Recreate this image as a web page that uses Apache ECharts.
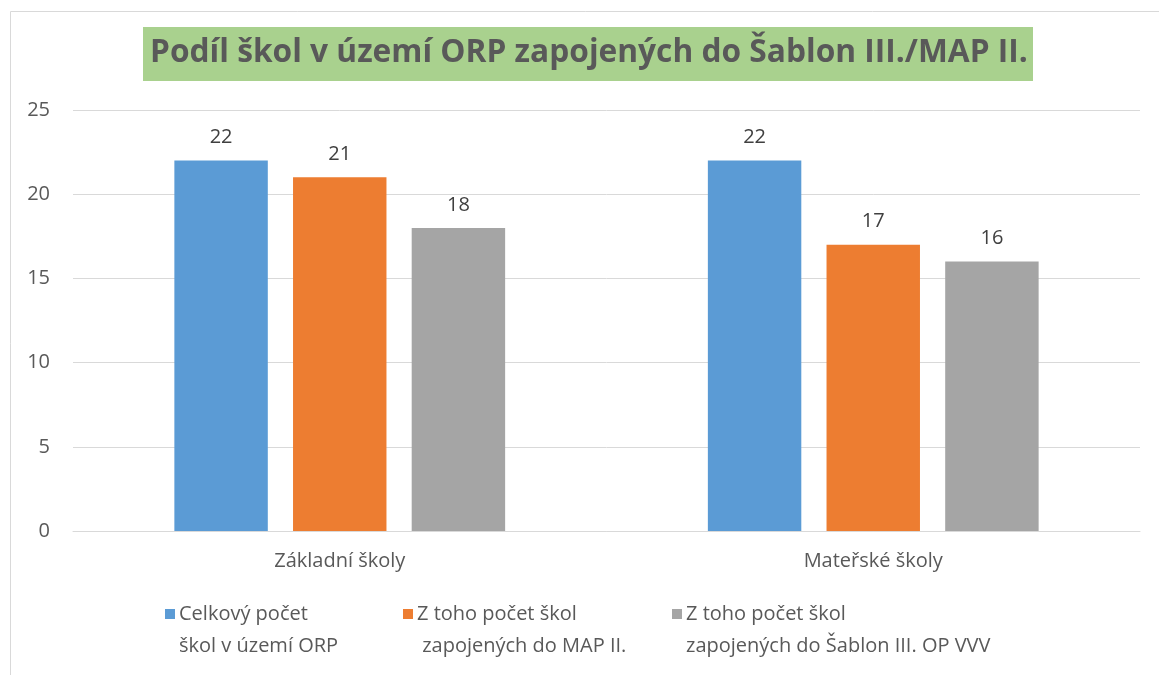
<html>
<head>
    <meta charset="utf-8">
    <title>Podíl škol</title>
    <script src="https://cdn.jsdelivr.net/npm/echarts@6/dist/echarts.min.js"></script>
</head>
<body style="margin:0">
<div id="main" style="width:1159px;height:675px;"></div>
<script type="text/javascript">
    // data
    var categories = ['Základní školy', 'Mateřské školy'];
    var seriesNames = [
        'Celkový počet\nškol v území ORP',
        'Z toho počet škol\n zapojených do MAP II.',
        'Z toho počet škol\nzapojených do Šablon III. OP VVV'
    ];
    var celkem = [22, 22];
    var mapII = [21, 17];
    var sablony = [18, 16];

    var myChart = echarts.init(document.getElementById('main'));
    var font = 'Open Sans';
    var label = { show: true, position: 'top', distance: 13, color: '#404040', fontSize: 20, fontFamily: font };

    // square sits at the top of a tall icon so it lines up with the first text line
    var topSquare = 'path://M0,0H10V10H0Z M0,41.99H0.01V42H0Z';
    function legendAt(x, i) {
        return {
            top: 593, left: x, itemWidth: 10, itemHeight: 42, itemGap: 0,
            icon: topSquare, selectedMode: false,
            textStyle: { color: '#595959', fontSize: 20, fontFamily: font, lineHeight: 32, padding: [0, 0, 0, -1] },
            data: [seriesNames[i]]
        };
    }

    option = {
        color: ['#5b9bd5', '#ed7d31', '#a5a5a5'],
        graphic: [
            { type: 'rect', left: 8, top: 9, shape: { width: 1170, height: 700 },
              style: { fill: 'none', stroke: '#d9d9d9', lineWidth: 1 } },
            { type: 'rect', left: 143, top: 27, shape: { width: 890, height: 54 },
              style: { fill: '#a9d18e' } }
        ],
        title: {
            text: 'Podíl škol v území ORP zapojených do Šablon III./MAP II.',
            left: 145, top: 32,
            textStyle: { color: '#595959', fontSize: 31.7, fontWeight: 'bold', fontFamily: font }
        },
        legend: [legendAt(160, 0), legendAt(398, 1), legendAt(667, 2)],
        grid: { top: 110, left: 73, right: 19, bottom: 144 },
        xAxis: {
            type: 'category', data: categories,
            axisLine: { lineStyle: { color: '#d9d9d9' } },
            axisTick: { show: false },
            axisLabel: { color: '#595959', fontSize: 20, fontFamily: font, margin: 20 }
        },
        yAxis: {
            type: 'value', min: 0, max: 25, interval: 5,
            axisLabel: { color: '#595959', fontSize: 20, fontFamily: font, margin: 23 },
            splitLine: { lineStyle: { color: '#d9d9d9' } }
        },
        series: [
            { name: seriesNames[0], type: 'bar', data: celkem, barGap: '27%', barCategoryGap: '38%', label: label },
            { name: seriesNames[1], type: 'bar', data: mapII, label: label },
            { name: seriesNames[2], type: 'bar', data: sablony, label: label }
        ]
    };
    myChart.setOption(option);
</script>
</body>
</html>
